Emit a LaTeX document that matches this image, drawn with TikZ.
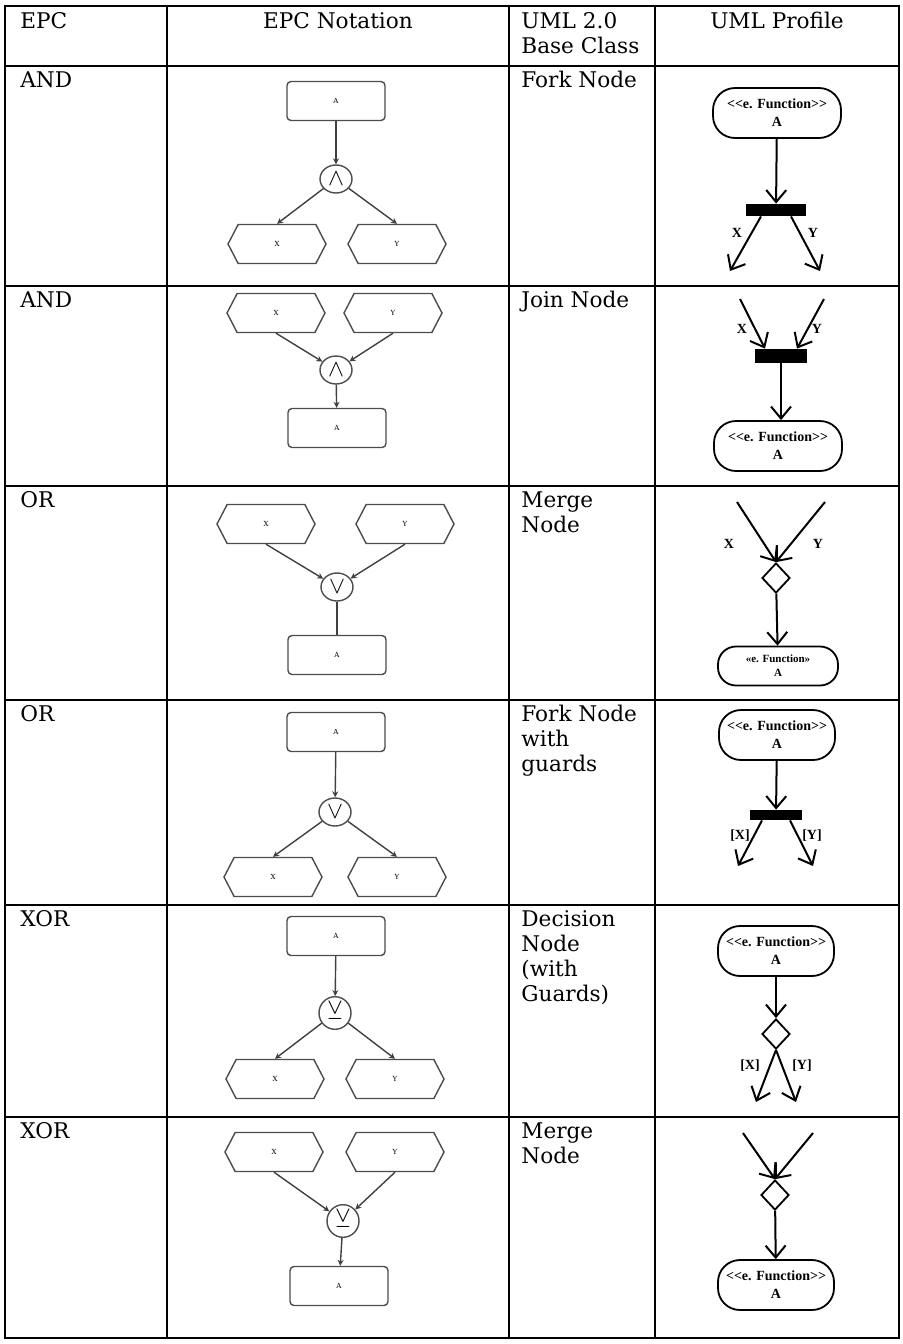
\documentclass[tikz,border=0pt]{standalone}
\usepackage{amssymb}
\usepackage{fontspec}
\setmainfont{DejaVu Serif}
\newfontfamily\umlfont{Liberation Serif}
\usetikzlibrary{shapes.symbols,shapes.geometric,arrows.meta}

\begin{document}
\begin{tikzpicture}[x=0.5pt, y=-0.5pt, >=stealth, font=\fontsize{10.8}{12.5}\selectfont]

\tikzset{
  rule/.style={line width=1pt},
  cell/.style={anchor=north west, align=left, inner sep=0pt},
  head/.style={anchor=north, align=center, inner sep=0pt},
  func/.style={draw=black!70, line width=0.7pt, rounded corners=2pt, minimum width=49pt, minimum height=19.5pt, inner sep=0pt, font=\fontsize{3.5}{4}\selectfont},
  event/.style={draw=black!70, line width=0.7pt, shape=signal, signal to=west and east, signal pointer angle=125, minimum width=49pt, minimum height=19.5pt, inner sep=0pt, font=\fontsize{3.5}{4}\selectfont},
  conn/.style={draw=black!70, line width=0.7pt, ellipse, minimum width=16pt, minimum height=14pt, inner sep=0pt, font=\fontsize{13}{13}\selectfont},
  flow/.style={-{Stealth[length=3pt,width=3pt]}, draw=black!75, line width=0.7pt},
  line/.style={draw=black!75, line width=0.7pt},
  act/.style={draw, line width=0.9pt, rounded corners=11pt, minimum width=64pt, minimum height=25pt, inner sep=1pt, align=center, font=\umlfont\bfseries\fontsize{7}{9}\selectfont},
  bar/.style={fill=black, minimum width=30pt, minimum height=6pt, inner sep=0pt},
  dec/.style={draw, diamond, line width=0.9pt, minimum width=14pt, minimum height=15pt, inner sep=0pt},
  uarr/.style={-{Straight Barb[length=6pt,width=10pt]}, line width=1pt},
  lbl/.style={inner sep=0pt, font=\umlfont\bfseries\fontsize{7}{7}\selectfont}
}

\useasboundingbox (0,0) rectangle (903,1344);

% Table
\draw[rule] (5,6) rectangle (899,1338);
\foreach \y in {66,286,486,700,905,1117}
  \draw[rule] (5,\y) -- (899,\y);
\foreach \x in {167,509,655}
  \draw[rule] (\x,6) -- (\x,1338);

% Header
\node[cell] (h1) at (20,12) {EPC};
\node[head] (h2) at (338,12) {EPC Notation};
\node[cell] (h3) at (521,12) {UML 2.0\\Base Class};
\node[head] (h4) at (777,12) {UML Profile};

% EPC column
\node[cell] (e1) at (20,71) {AND};
\node[cell] (e2) at (20,291) {AND};
\node[cell] (e3) at (20,491) {OR};
\node[cell] (e4) at (20,705) {OR};
\node[cell] (e5) at (20,910) {XOR};
\node[cell] (e6) at (20,1122) {XOR};

% Base class column
\node[cell] (k1) at (521,71) {Fork Node};
\node[cell] (k2) at (521,291) {Join Node};
\node[cell] (k3) at (521,491) {Merge\\Node};
\node[cell] (k4) at (521,705) {Fork Node\\with\\guards};
\node[cell] (k5) at (521,910) {Decision\\Node\\(with\\Guards)};
\node[cell] (k6) at (521,1122) {Merge\\Node};

% AND split
\node[func] (fA1) at (336,101) {A};
\node[conn] (c1) at (336,179) {$\wedge$};
\node[event] (x1) at (277,244) {X};
\node[event] (y1) at (397,244) {Y};
\draw[flow] (fA1) -- (c1);
\draw[flow] (c1) -- (x1.north);
\draw[flow] (c1) -- (y1.north);

% AND join
\node[event] (x2) at (276,313) {X};
\node[event] (y2) at (393,313) {Y};
\node[conn] (c2) at (336,370) {$\wedge$};
\node[func] (fA2) at (337,428) {A};
\draw[flow] (x2.south) -- (c2);
\draw[flow] (y2.south) -- (c2);
\draw[flow] (c2) -- (fA2);

% OR join
\node[event] (x3) at (266,524) {X};
\node[event] (y3) at (405,524) {Y};
\node[conn] (c3) at (337,587) {$\vee$};
\node[func] (fA3) at (337,655) {A};
\draw[flow] (x3.south) -- (c3);
\draw[flow] (y3.south) -- (c3);
\draw[line] (c3) -- (fA3);

% OR split
\node[func] (fA4) at (336,732) {A};
\node[conn] (c4) at (335,812) {$\vee$};
\node[event] (x4) at (273,877) {X};
\node[event] (y4) at (397,877) {Y};
\draw[flow] (fA4) -- (c4);
\draw[flow] (c4) -- (x4.north);
\draw[flow] (c4) -- (y4.north);

% XOR split
\node[func] (fA5) at (336,936) {A};
\node[conn] (c5) at (335,1013) {$\veebar$};
\node[event] (x5) at (275,1079) {X};
\node[event] (y5) at (395,1079) {Y};
\draw[flow] (fA5) -- (c5);
\draw[flow] (c5) -- (x5.north);
\draw[flow] (c5) -- (y5.north);

% XOR join
\node[event] (x6) at (274,1152) {X};
\node[event] (y6) at (395,1152) {Y};
\node[conn] (c6) at (343,1221) {$\veebar$};
\node[func] (fA6) at (339,1286) {A};
\draw[flow] (x6.south) -- (c6);
\draw[flow] (y6.south) -- (c6);
\draw[flow] (c6) -- (fA6);

% UML fork
\node[act] (uf1) at (777,113) {{<}{<}e. Function{>}{>}\\A};
\node[bar] (b1) at (776,210) {};
\coordinate (ux1) at (730,271);
\coordinate (uy1) at (820,271);
\draw[uarr] (uf1) -- (b1);
\draw[uarr] ([xshift=-7.5pt]b1.south) -- (ux1);
\draw[uarr] ([xshift=7.5pt]b1.south) -- (uy1);
\node[lbl] (lx1) at (737,233) {X};
\node[lbl] (ly1) at (813,233) {Y};

% UML join
\coordinate (ux2) at (740,299);
\coordinate (uy2) at (824,299);
\node[bar, minimum width=26pt, minimum height=7pt] (b2) at (781,356) {};
\node[act] (uf2) at (778,446) {{<}{<}e. Function{>}{>}\\A};
\draw[uarr] (ux2) -- ([xshift=-8pt]b2.north);
\draw[uarr] (uy2) -- ([xshift=8pt]b2.north);
\draw[uarr] (b2.south) -- (b2.south |- uf2.north);
\node[lbl] (lx2) at (742,329) {X};
\node[lbl] (ly2) at (817,329) {Y};

% UML merge
\coordinate (ux3) at (737,502);
\coordinate (uy3) at (825,502);
\node[dec] (d3) at (776,578) {};
\node[act, minimum width=60pt, minimum height=19.5pt, rounded corners=9pt, font=\umlfont\bfseries\fontsize{5.5}{7}\selectfont] (uf3) at (778,666) {«e. Function»\\A};
\draw[uarr] (ux3) -- (d3.north);
\draw[uarr] (uy3) -- (d3.north);
\draw[uarr] (d3) -- (uf3);
\node[lbl] (lx3) at (729,544) {X};
\node[lbl] (ly3) at (818,544) {Y};

% UML fork with guards
\node[act, minimum width=58pt] (uf4) at (777,735) {{<}{<}e. Function{>}{>}\\A};
\node[bar, minimum width=26pt, minimum height=5pt] (b4) at (776,815) {};
\coordinate (ux4) at (738,866);
\coordinate (uy4) at (813,866);
\draw[uarr] (uf4) -- (b4);
\draw[uarr] ([xshift=-7pt]b4.south) -- (ux4);
\draw[uarr] ([xshift=7pt]b4.south) -- (uy4);
\node[lbl] (lx4) at (740,836) {[X]};
\node[lbl] (ly4) at (812,836) {[Y]};

% UML decision
\node[act, minimum width=58pt] (uf5) at (776,951) {{<}{<}e. Function{>}{>}\\A};
\node[dec] (d5) at (776,1034) {};
\coordinate (ux5) at (756,1102);
\coordinate (uy5) at (796,1102);
\draw[uarr] (uf5) -- (d5);
\draw[uarr] (d5.south) -- (ux5);
\draw[uarr] (d5.south) -- (uy5);
\node[lbl] (lx5) at (750,1066) {[X]};
\node[lbl] (ly5) at (802,1066) {[Y]};

% UML merge (XOR)
\coordinate (ux6) at (743,1133);
\coordinate (uy6) at (813,1133);
\node[dec] (d6) at (775,1195) {};
\node[act, minimum width=58pt] (uf6) at (776,1285) {{<}{<}e. Function{>}{>}\\A};
\draw[uarr] (ux6) -- (d6.north);
\draw[uarr] (uy6) -- (d6.north);
\draw[uarr] (d6) -- (uf6);

\end{tikzpicture}
\end{document}
